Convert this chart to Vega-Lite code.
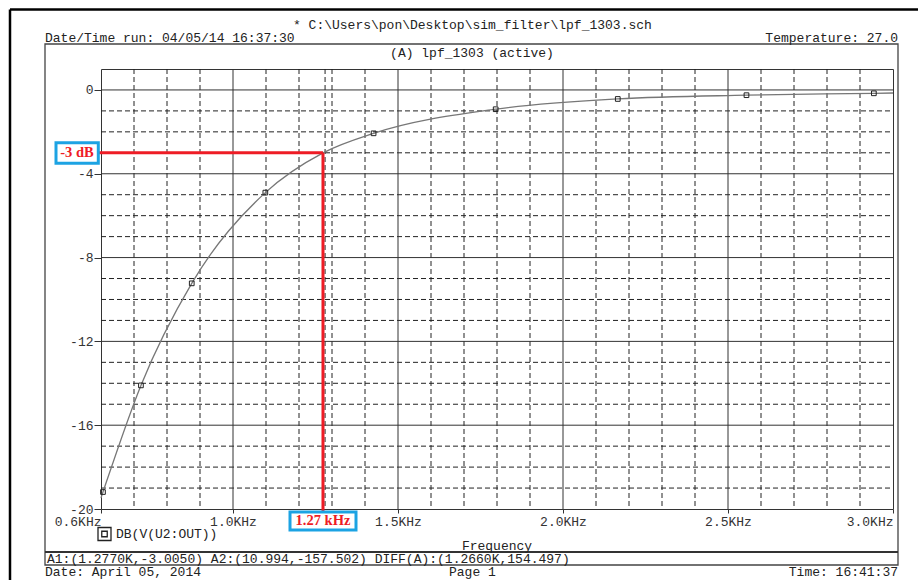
{
  "$schema": "https://vega.github.io/schema/vega-lite/v6.json",
  "width": 792,
  "height": 440,
  "autosize": {"type": "none"},
  "padding": {"left": 101, "top": 69, "right": 25, "bottom": 71},
  "background": "white",
  "config": {
    "view": {"stroke": "#333333", "strokeWidth": 1},
    "font": "Liberation Mono",
    "axis": {"labelFont": "Liberation Mono", "labelFontSize": 13, "labelColor": "#333333", "domain": false, "grid": false}
  },
  "datasets": {
    "grid": [
      {"kind": "minor", "f": 0.7, "f2": 0.7, "db": 1, "db2": -20},
      {"kind": "minor", "f": 0.8, "f2": 0.8, "db": 1, "db2": -20},
      {"kind": "minor", "f": 0.9, "f2": 0.9, "db": 1, "db2": -20},
      {"kind": "major", "f": 1.0, "f2": 1.0, "db": 1, "db2": -20},
      {"kind": "minor", "f": 1.1, "f2": 1.1, "db": 1, "db2": -20},
      {"kind": "minor", "f": 1.2, "f2": 1.2, "db": 1, "db2": -20},
      {"kind": "minor", "f": 1.279, "f2": 1.279, "db": 1, "db2": -20},
      {"kind": "minor", "f": 1.3, "f2": 1.3, "db": 1, "db2": -20},
      {"kind": "minor", "f": 1.4, "f2": 1.4, "db": 1, "db2": -20},
      {"kind": "major", "f": 1.5, "f2": 1.5, "db": 1, "db2": -20},
      {"kind": "minor", "f": 1.6, "f2": 1.6, "db": 1, "db2": -20},
      {"kind": "minor", "f": 1.7, "f2": 1.7, "db": 1, "db2": -20},
      {"kind": "minor", "f": 1.8, "f2": 1.8, "db": 1, "db2": -20},
      {"kind": "minor", "f": 1.9, "f2": 1.9, "db": 1, "db2": -20},
      {"kind": "major", "f": 2.0, "f2": 2.0, "db": 1, "db2": -20},
      {"kind": "minor", "f": 2.1, "f2": 2.1, "db": 1, "db2": -20},
      {"kind": "minor", "f": 2.2, "f2": 2.2, "db": 1, "db2": -20},
      {"kind": "minor", "f": 2.3, "f2": 2.3, "db": 1, "db2": -20},
      {"kind": "minor", "f": 2.4, "f2": 2.4, "db": 1, "db2": -20},
      {"kind": "major", "f": 2.5, "f2": 2.5, "db": 1, "db2": -20},
      {"kind": "minor", "f": 2.6, "f2": 2.6, "db": 1, "db2": -20},
      {"kind": "minor", "f": 2.7, "f2": 2.7, "db": 1, "db2": -20},
      {"kind": "minor", "f": 2.8, "f2": 2.8, "db": 1, "db2": -20},
      {"kind": "minor", "f": 2.9, "f2": 2.9, "db": 1, "db2": -20},
      {"kind": "major", "f": 0.6, "f2": 3.0, "db": 0, "db2": 0},
      {"kind": "minor", "f": 0.6, "f2": 3.0, "db": -1, "db2": -1},
      {"kind": "minor", "f": 0.6, "f2": 3.0, "db": -2, "db2": -2},
      {"kind": "minor", "f": 0.6, "f2": 3.0, "db": -3, "db2": -3},
      {"kind": "major", "f": 0.6, "f2": 3.0, "db": -4, "db2": -4},
      {"kind": "minor", "f": 0.6, "f2": 3.0, "db": -5, "db2": -5},
      {"kind": "minor", "f": 0.6, "f2": 3.0, "db": -6, "db2": -6},
      {"kind": "minor", "f": 0.6, "f2": 3.0, "db": -7, "db2": -7},
      {"kind": "major", "f": 0.6, "f2": 3.0, "db": -8, "db2": -8},
      {"kind": "minor", "f": 0.6, "f2": 3.0, "db": -9, "db2": -9},
      {"kind": "minor", "f": 0.6, "f2": 3.0, "db": -10, "db2": -10},
      {"kind": "minor", "f": 0.6, "f2": 3.0, "db": -11, "db2": -11},
      {"kind": "major", "f": 0.6, "f2": 3.0, "db": -12, "db2": -12},
      {"kind": "minor", "f": 0.6, "f2": 3.0, "db": -13, "db2": -13},
      {"kind": "minor", "f": 0.6, "f2": 3.0, "db": -14, "db2": -14},
      {"kind": "minor", "f": 0.6, "f2": 3.0, "db": -15, "db2": -15},
      {"kind": "major", "f": 0.6, "f2": 3.0, "db": -16, "db2": -16},
      {"kind": "minor", "f": 0.6, "f2": 3.0, "db": -17, "db2": -17},
      {"kind": "minor", "f": 0.6, "f2": 3.0, "db": -18, "db2": -18},
      {"kind": "minor", "f": 0.6, "f2": 3.0, "db": -19, "db2": -19}
    ],
    "curve": [
      {"f": 0.600, "db": -19.47}, {"f": 0.606, "db": -19.19}, {"f": 0.721, "db": -14.1},
      {"f": 0.875, "db": -9.23}, {"f": 1.098, "db": -4.9}, {"f": 1.273, "db": -3.0},
      {"f": 1.426, "db": -2.07}, {"f": 1.796, "db": -0.92}, {"f": 2.166, "db": -0.43},
      {"f": 2.556, "db": -0.25}, {"f": 2.942, "db": -0.16}, {"f": 3.000, "db": -0.145}
    ],
    "markers": [
      {"f": 0.606, "db": -19.19}, {"f": 0.721, "db": -14.1}, {"f": 0.875, "db": -9.23},
      {"f": 1.098, "db": -4.9}, {"f": 1.426, "db": -2.07}, {"f": 1.796, "db": -0.92},
      {"f": 2.166, "db": -0.43}, {"f": 2.556, "db": -0.25}, {"f": 2.942, "db": -0.16}
    ],
    "rules": [
      {"kind": "outer", "f": 0.32424, "f2": 0.32424, "db": 3.84, "db2": -23.6},
      {"kind": "outer", "f": 0.32424, "f2": 3.09, "db": 3.84, "db2": 3.84},
      {"kind": "frame", "f": 0.4303, "f2": 3.01515, "db": -22.052, "db2": -22.052},
      {"kind": "red", "f": 0.5909, "f2": 1.2727, "db": -3.0, "db2": -3.0},
      {"kind": "red", "f": 1.2727, "f2": 1.2727, "db": -3.0, "db2": -20.143}
    ],
    "frame": [
      {"f": 0.4303, "f2": 3.01515, "db": 2.1932, "db2": -22.672}
    ],
    "boxes": [
      {"f": 0.46364, "f2": 0.59182, "db": -2.5175, "db2": -3.5007},
      {"f": 1.17273, "f2": 1.37273, "db": -20.143, "db2": -21.002}
    ],
    "boxText": [
      {"text": "-3 dB", "f": 0.52727, "db": -3.009},
      {"text": "1.27 kHz", "f": 1.27273, "db": -20.572}
    ],
    "legend": [
      {"f": 0.61061, "db": -21.193}
    ],
    "pageText": [
      {"anchor": "left", "text": "* C:\\Users\\pon\\Desktop\\sim_filter\\lpf_1303.sch", "f": 1.18182, "db": 3.1},
      {"anchor": "left", "text": "Date/Time run: 04/05/14 16:37:30", "f": 0.4303, "db": 2.4795},
      {"anchor": "right", "text": "Temperature: 27.0", "f": 3.01515, "db": 2.4795},
      {"anchor": "center", "text": "(A) lpf_1303 (active)", "f": 1.72424, "db": 1.7636},
      {"anchor": "center", "text": "Frequency", "f": 1.8, "db": -21.766},
      {"anchor": "left", "text": "DB(V(U2:OUT))", "f": 0.64545, "db": -21.193},
      {"anchor": "left", "text": "A1:(1.2770K,-3.0050)  A2:(10.994,-157.502)  DIFF(A):(1.2660K,154.497)", "f": 0.43636, "db": -22.386},
      {"anchor": "left", "text": "Date: April 05, 2014", "f": 0.4303, "db": -23.007},
      {"anchor": "left", "text": "Page 1", "f": 1.65455, "db": -23.007},
      {"anchor": "right", "text": "Time: 16:41:37", "f": 3.01515, "db": -23.007}
    ]
  },
  "encoding": {
    "x": {
      "field": "f", "type": "quantitative",
      "scale": {"domain": [0.6, 3.0], "nice": false, "zero": false},
      "axis": {
        "title": null,
        "values": [0.6, 1.0, 1.5, 2.0, 2.5, 3.0],
        "grid": false,
        "ticks": true,
        "tickSize": 4,
        "tickColor": "#333333",
        "labelExpr": "format(datum.value, '.1f') + 'KHz'",
        "labelAlign": {"condition": {"test": "datum.value == 0.6 || datum.value == 3", "value": "right"}, "value": "center"},
        "labelPadding": 2,
        "labelOverlap": false,
        "labelBound": false,
        "labelFlush": false
      }
    },
    "y": {
      "field": "db", "type": "quantitative",
      "scale": {"domain": [-20, 1], "nice": false, "zero": false},
      "axis": {
        "title": null,
        "values": [-20, -16, -12, -8, -4, 0],
        "grid": false,
        "ticks": true,
        "tickSize": 7,
        "tickColor": "#333333",
        "labelExpr": "(datum.value < 0 ? '-' : '') + abs(datum.value)",
        "labelPadding": 1,
        "labelOverlap": false,
        "labelBound": false,
        "labelFlush": false
      }
    }
  },
  "layer": [
    {
      "data": {"name": "grid"},
      "transform": [{"filter": "datum.kind == 'minor'"}],
      "mark": {"type": "rule", "color": "#222222", "strokeWidth": 1, "strokeDash": [5, 3]},
      "encoding": {"x2": {"field": "f2"}, "y2": {"field": "db2"}}
    },
    {
      "data": {"name": "grid"},
      "transform": [{"filter": "datum.kind == 'major'"}],
      "mark": {"type": "rule", "color": "#333333", "strokeWidth": 1},
      "encoding": {"x2": {"field": "f2"}, "y2": {"field": "db2"}}
    },
    {
      "data": {"name": "curve"},
      "mark": {"type": "line", "interpolate": "monotone", "color": "#777777", "strokeWidth": 1.3}
    },
    {
      "data": {"name": "markers"},
      "mark": {"type": "point", "shape": "square", "filled": false, "size": 22, "color": "#222222", "strokeWidth": 1, "opacity": 1}
    },
    {
      "data": {"name": "frame"},
      "mark": {"type": "rect", "fill": "transparent", "stroke": "#444444", "strokeWidth": 1.3},
      "encoding": {"x2": {"field": "f2"}, "y2": {"field": "db2"}}
    },
    {
      "data": {"name": "rules"},
      "transform": [{"filter": "datum.kind == 'frame'"}],
      "mark": {"type": "rule", "color": "#333333", "strokeWidth": 2},
      "encoding": {"x2": {"field": "f2"}, "y2": {"field": "db2"}}
    },
    {
      "data": {"name": "rules"},
      "transform": [{"filter": "datum.kind == 'outer'"}],
      "mark": {"type": "rule", "color": "#000000", "strokeWidth": 2.5},
      "encoding": {"x2": {"field": "f2"}, "y2": {"field": "db2"}}
    },
    {
      "data": {"name": "legend"},
      "mark": {"type": "point", "shape": "square", "filled": false, "size": 169, "color": "#222222", "strokeWidth": 1.3, "opacity": 1}
    },
    {
      "data": {"name": "legend"},
      "mark": {"type": "point", "shape": "square", "filled": false, "size": 30, "color": "#222222", "strokeWidth": 1.3, "opacity": 1}
    },
    {
      "data": {"name": "rules"},
      "transform": [{"filter": "datum.kind == 'red'"}],
      "mark": {"type": "rule", "color": "#ee1c25", "strokeWidth": 3},
      "encoding": {"x2": {"field": "f2"}, "y2": {"field": "db2"}}
    },
    {
      "data": {"name": "boxes"},
      "mark": {"type": "rect", "fill": "white", "stroke": "#1ca3e3", "strokeWidth": 3},
      "encoding": {"x2": {"field": "f2"}, "y2": {"field": "db2"}}
    },
    {
      "data": {"name": "boxText"},
      "mark": {"type": "text", "font": "Liberation Serif", "fontWeight": "bold", "fontSize": 14.5, "color": "#ee1c25", "align": "center", "baseline": "middle"},
      "encoding": {"text": {"field": "text"}}
    },
    {
      "data": {"name": "pageText"},
      "transform": [{"filter": "datum.anchor == 'left'"}],
      "mark": {"type": "text", "font": "Liberation Mono", "fontSize": 13, "color": "#222222", "align": "left", "baseline": "middle"},
      "encoding": {"text": {"field": "text"}}
    },
    {
      "data": {"name": "pageText"},
      "transform": [{"filter": "datum.anchor == 'right'"}],
      "mark": {"type": "text", "font": "Liberation Mono", "fontSize": 13, "color": "#222222", "align": "right", "baseline": "middle"},
      "encoding": {"text": {"field": "text"}}
    },
    {
      "data": {"name": "pageText"},
      "transform": [{"filter": "datum.anchor == 'center'"}],
      "mark": {"type": "text", "font": "Liberation Mono", "fontSize": 13, "color": "#222222", "align": "center", "baseline": "middle"},
      "encoding": {"text": {"field": "text"}}
    }
  ]
}
